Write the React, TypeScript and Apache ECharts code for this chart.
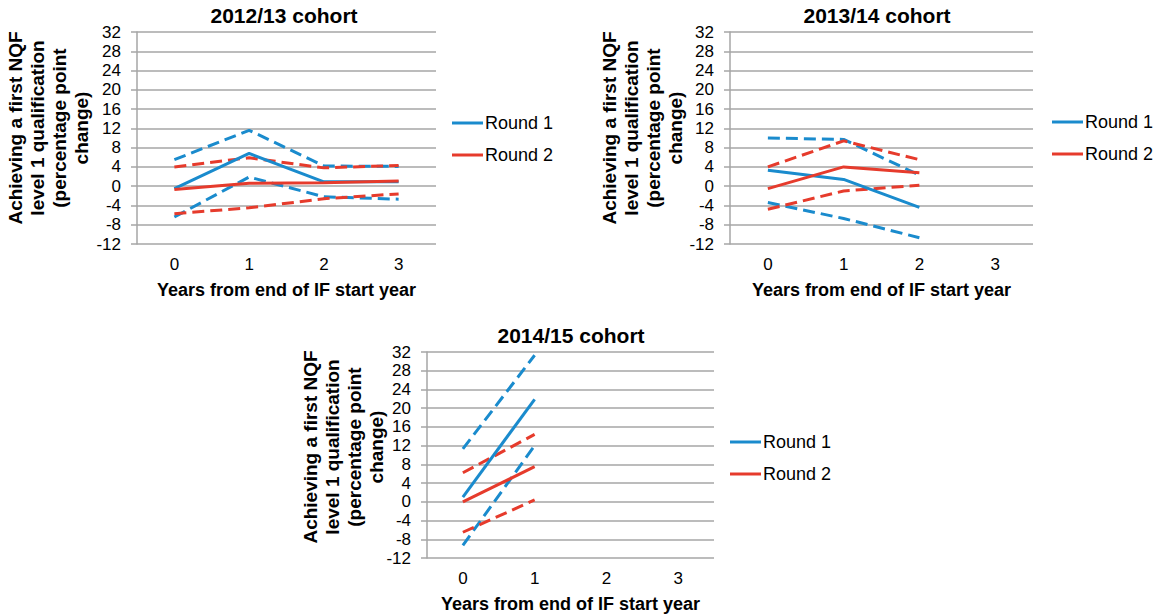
import React, { useEffect, useRef } from "react";
import * as echarts from "echarts";

const categories = ["0", "1", "2", "3"];
const yTicks = { min: -12, max: 32, interval: 4 };

const titles = ["2012/13 cohort", "2013/14 cohort", "2014/15 cohort"];
const yAxisName = "Achieving a first NQF\nlevel 1 qualification\n(percentage point\nchange)";
const xAxisName = "Years from end of IF start year";
const legendNames = ["Round 1", "Round 2"];

// 2012/13 cohort
const c1Round1 = [-0.5, 6.8, 0.9, 0.9];
const c1Round1Upper = [5.5, 11.6, 4.2, 4.1];
const c1Round1Lower = [-6.4, 1.9, -2.2, -2.7];
const c1Round2 = [-0.7, 0.6, 0.7, 1.1];
const c1Round2Upper = [4.0, 5.9, 3.8, 4.3];
const c1Round2Lower = [-5.7, -4.5, -2.6, -1.6];

// 2013/14 cohort
const c2Round1 = [3.3, 1.4, -4.4];
const c2Round1Upper = [10.0, 9.7, 2.3];
const c2Round1Lower = [-3.4, -6.7, -10.7];
const c2Round2 = [-0.5, 4.0, 2.8];
const c2Round2Upper = [4.0, 9.4, 5.5];
const c2Round2Lower = [-4.8, -1.0, 0.2];

// 2014/15 cohort
const c3Round1 = [1.0, 21.9];
const c3Round1Upper = [11.3, 31.3];
const c3Round1Lower = [-9.3, 12.0];
const c3Round2 = [0.0, 7.5];
const c3Round2Upper = [6.2, 14.4];
const c3Round2Lower = [-6.5, 0.4];

const BLUE = "#1a8bcd";
const RED = "#e63b2c";
const GRID = "#a6a6a6";
const FONT = "'Liberation Sans', Arial, sans-serif";

const cohorts = [
  { r1: c1Round1, r1u: c1Round1Upper, r1l: c1Round1Lower, r2: c1Round2, r2u: c1Round2Upper, r2l: c1Round2Lower },
  { r1: c2Round1, r1u: c2Round1Upper, r1l: c2Round1Lower, r2: c2Round2, r2u: c2Round2Upper, r2l: c2Round2Lower },
  { r1: c3Round1, r1u: c3Round1Upper, r1l: c3Round1Lower, r2: c3Round2, r2u: c3Round2Upper, r2l: c3Round2Lower },
];

const layout = [
  { left: 137, top: 32, width: 299, height: 212, titleX: 284, titleY: 5, nameX: 48, nameY: 128, legendX: 452, legendY: 114 },
  { left: 730, top: 32, width: 303, height: 212, titleX: 877, titleY: 5, nameX: 642, nameY: 128, legendX: 1052, legendY: 113 },
  { left: 427, top: 352, width: 287, height: 212, titleX: 571, titleY: 325, nameX: 343, nameY: 447, legendX: 730, legendY: 433 },
];

export default function App() {
  const ref = useRef<HTMLDivElement>(null);

  useEffect(() => {
    if (!ref.current) return;
    const chart = echarts.init(ref.current, undefined, { renderer: "svg" });

    const series: any[] = [];
    cohorts.forEach((c, i) => {
      const mk = (name: string, data: number[], color: string, dashed: boolean) => ({
        type: "line",
        name,
        xAxisIndex: i,
        yAxisIndex: i,
        data,
        symbol: "none",
        lineStyle: { color, width: 3, type: dashed ? [12, 6] : "solid" },
        itemStyle: { color },
        z: dashed ? 2 : 3,
      });
      series.push(mk("Round 1", c.r1, BLUE, false));
      series.push(mk("Round 2", c.r2, RED, false));
      series.push(mk("Round 1 upper", c.r1u, BLUE, true));
      series.push(mk("Round 1 lower", c.r1l, BLUE, true));
      series.push(mk("Round 2 upper", c.r2u, RED, true));
      series.push(mk("Round 2 lower", c.r2l, RED, true));
    });

    const option: any = {
      animation: false,
      backgroundColor: "#ffffff",
      textStyle: { fontFamily: FONT, color: "#000" },
      title: layout.map((l, i) => ({
        text: titles[i],
        left: l.titleX,
        top: l.titleY,
        textAlign: "center",
        padding: 0,
        textStyle: { fontFamily: FONT, fontSize: 21, fontWeight: "bold", color: "#000" },
      })),
      legend: layout.map((l) => ({
        data: legendNames,
        orient: "vertical",
        left: l.legendX,
        top: l.legendY,
        padding: 0,
        itemWidth: 31,
        itemHeight: 3,
        itemGap: 14,
        icon: "rect",
        selectedMode: false,
        textStyle: { fontFamily: FONT, fontSize: 18, color: "#000", lineHeight: 18, padding: [0, 0, 0, -3] },
      })),
      grid: layout.map((l) => ({ left: l.left, top: l.top, width: l.width, height: l.height, containLabel: false })),
      xAxis: layout.map((l, i) => ({
        type: "category",
        gridIndex: i,
        data: categories,
        boundaryGap: true,
        axisLine: { show: false },
        axisTick: { show: false },
        axisLabel: { fontFamily: FONT, fontSize: 17, color: "#000", margin: 12 },
        name: xAxisName,
        nameLocation: "middle",
        nameGap: 37,
        nameTextStyle: { fontFamily: FONT, fontSize: 18, fontWeight: "bold", color: "#000" },
      })),
      yAxis: layout.map((l, i) => ({
        type: "value",
        gridIndex: i,
        min: yTicks.min,
        max: yTicks.max,
        interval: yTicks.interval,
        axisLine: { show: true, lineStyle: { color: GRID, width: 1.5 } },
        axisTick: { show: true, length: 6, lineStyle: { color: GRID, width: 1.5 } },
        axisLabel: { fontFamily: FONT, fontSize: 17, color: "#000", margin: 16 },
        splitLine: { show: true, lineStyle: { color: GRID, width: 1.5 } },
      })),
      graphic: layout.map((l) => ({
        type: "text",
        x: l.nameX,
        y: l.nameY,
        rotation: Math.PI / 2,
        style: {
          text: yAxisName,
          font: `bold 19px ${FONT}`,
          fill: "#000",
          textAlign: "center",
          textVerticalAlign: "middle",
          lineHeight: 22,
        },
      })),
      series,
    };

    chart.setOption(option);
    return () => chart.dispose();
  }, []);

  return (
    <div
      ref={ref}
      style={{ position: "fixed", left: 0, top: 0, width: 1153, height: 614, background: "#fff" }}
    />
  );
}
